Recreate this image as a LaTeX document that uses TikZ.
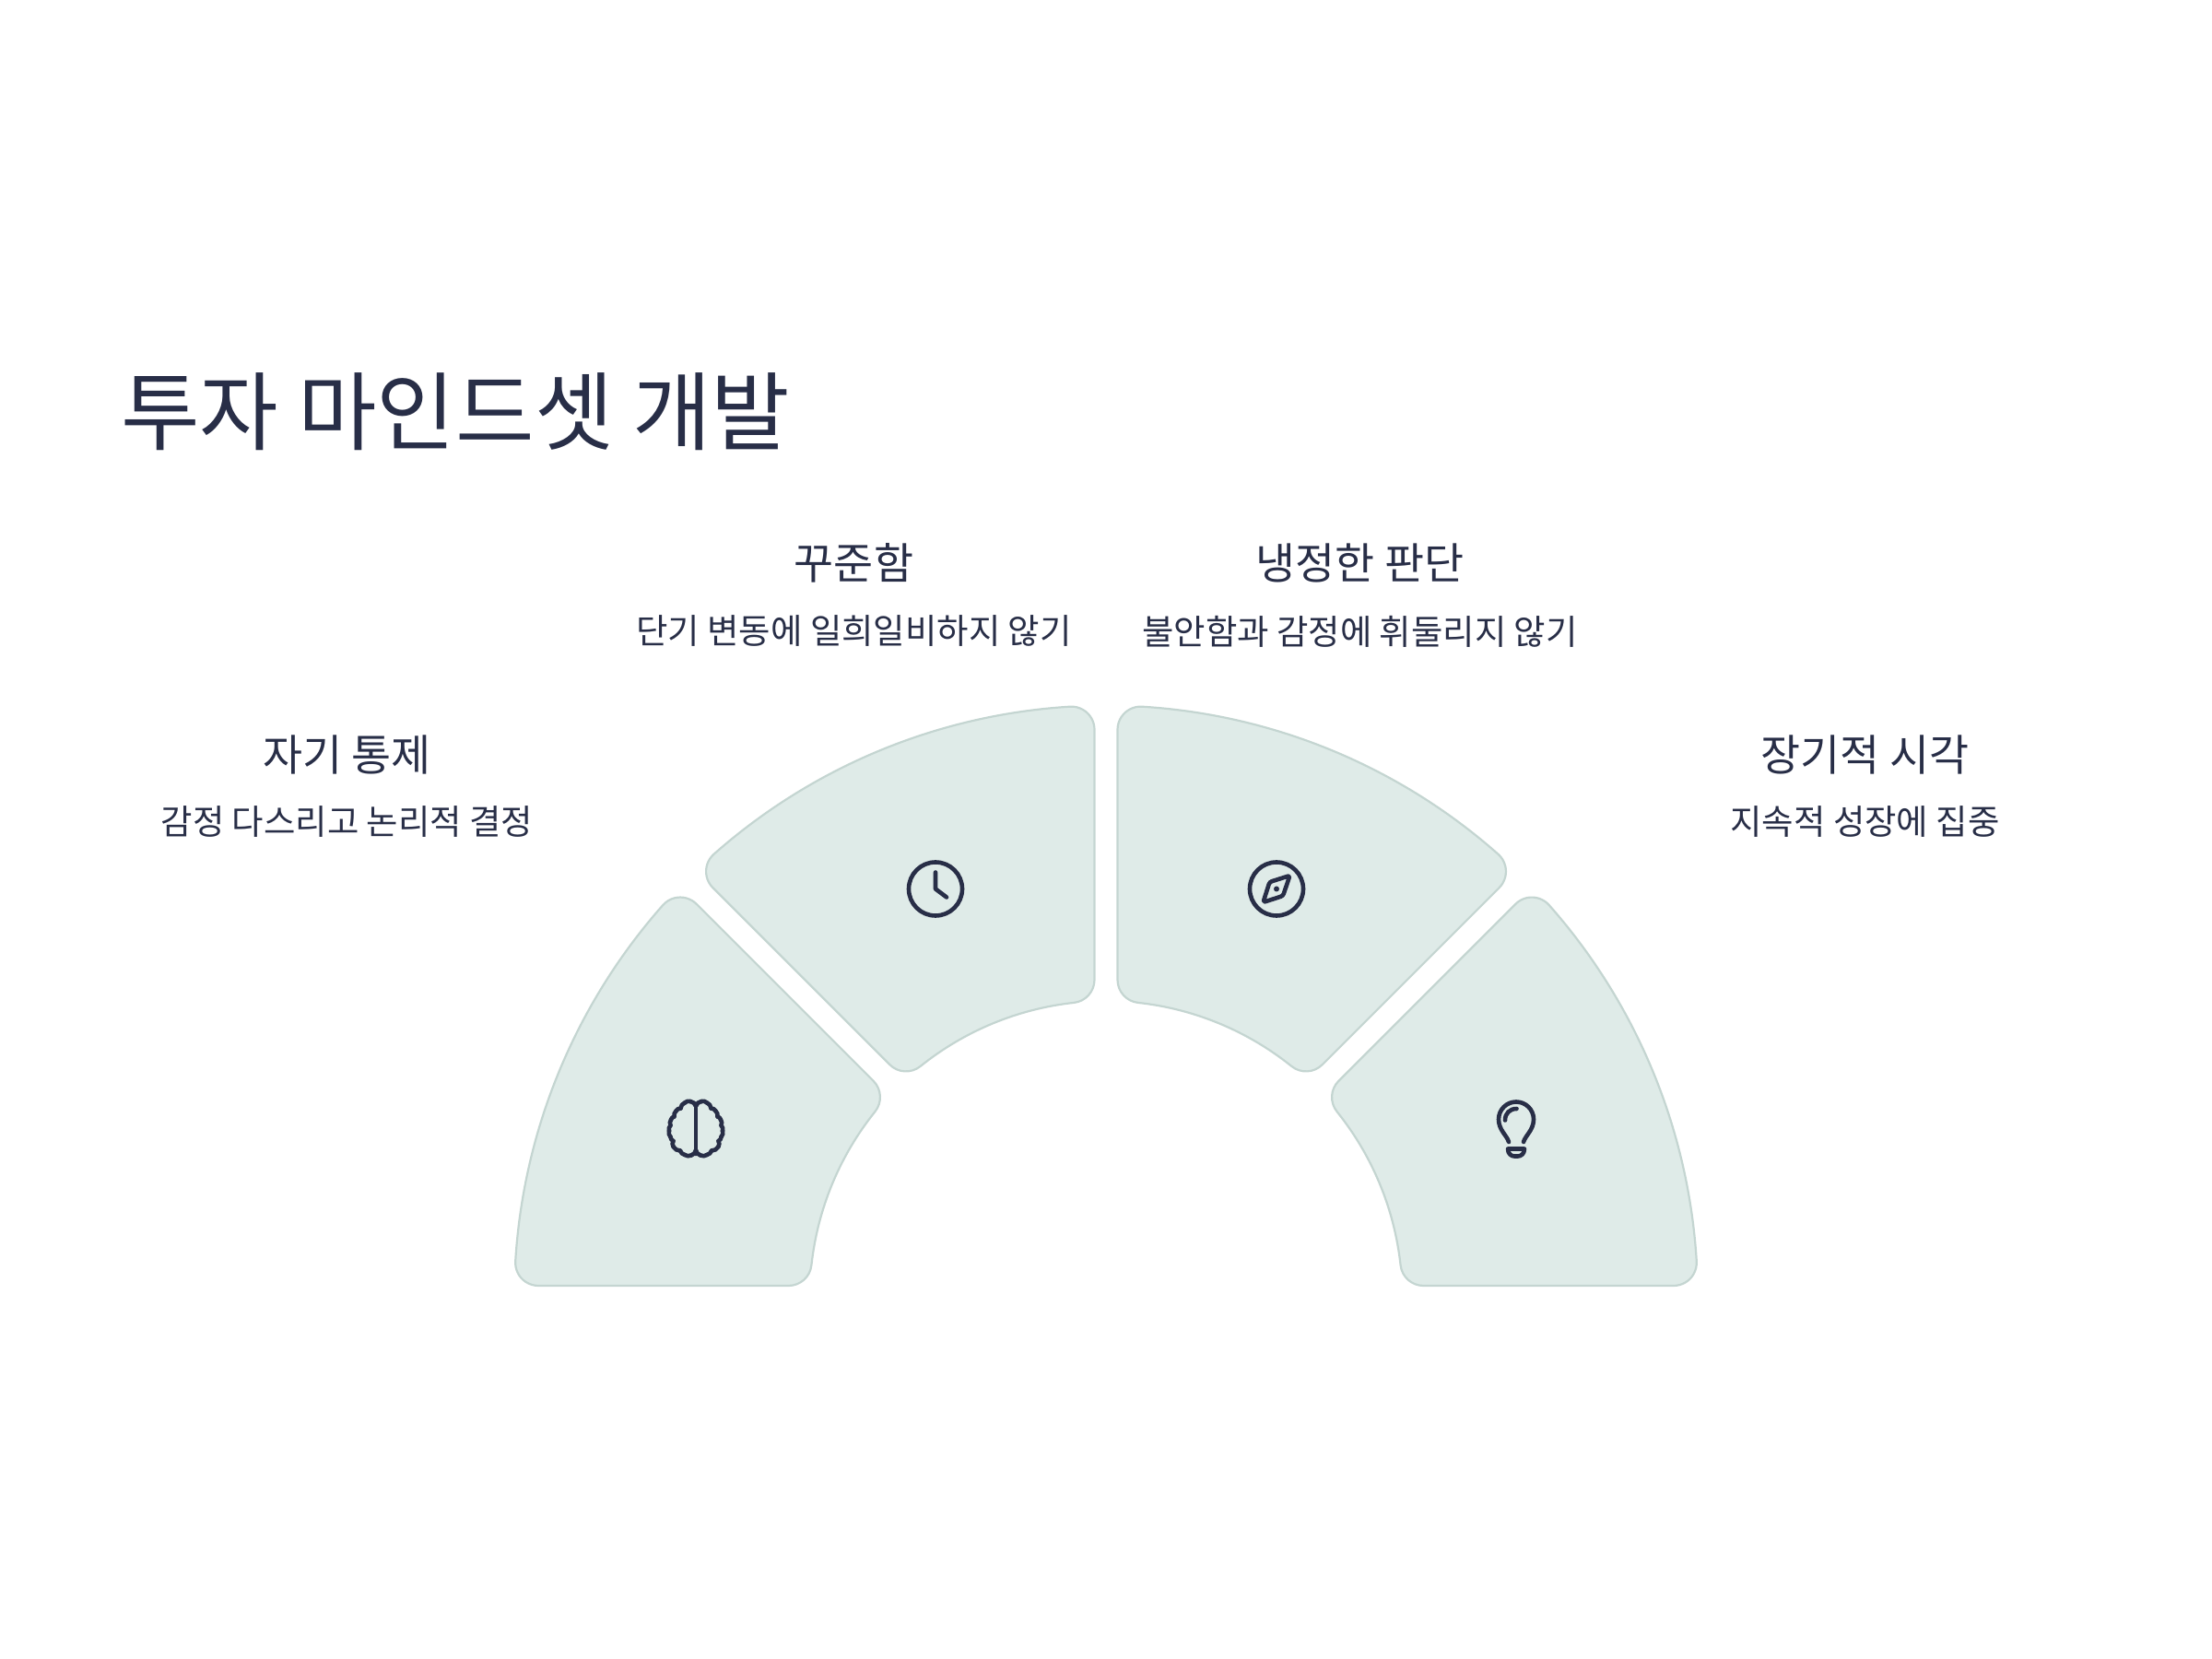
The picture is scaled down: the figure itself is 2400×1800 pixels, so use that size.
\documentclass[tikz,border=0pt]{standalone}
\usepackage{fontspec}
\setmainfont{Noto Sans CJK KR}
\usepackage{xcolor}
\definecolor{inkc}{HTML}{282E47}
\definecolor{sectfill}{HTML}{DFEBE8}
\definecolor{sectline}{HTML}{C4D5D1}
\usetikzlibrary{positioning}
\pgfmathsetmacro\Ro{642}
\pgfmathsetmacro\Ri{321.5}
\pgfmathsetmacro\gp{12.5}
\pgfmathsetmacro\rf{25}
\pgfmathsetmacro\ph{22.5}
\pgfmathsetmacro\thO{\ph-asin((\gp+\rf)/(\Ro-\rf))}
\pgfmathsetmacro\thI{\ph-asin((\gp+\rf)/(\Ri+\rf))}
\pgfmathsetmacro\ix{(\Ri+\rf)*cos(\thI)-\rf*sin(\ph)}
\pgfmathsetmacro\iy{(\Ri+\rf)*sin(\thI)+\rf*cos(\ph)}
\pgfmathsetmacro\ox{(\Ro-\rf)*cos(\thO)-\rf*sin(\ph)}
\pgfmathsetmacro\oy{(\Ro-\rf)*sin(\thO)+\rf*cos(\ph)}
\begin{document}
\begin{tikzpicture}[x=0.5pt,y=0.5pt,
  title/.style={font=\fontsize{46.5}{50}\selectfont,text=inkc,inner sep=0pt},
  head/.style={font=\fontsize{23.4}{26}\selectfont,text=inkc,inner sep=0pt},
  sub/.style={font=\fontsize{18.7}{22}\selectfont,text=inkc,inner sep=0pt},
  sector/.style={fill=sectfill,draw=sectline,line width=1.1pt},
  icon/.style={draw=inkc,line width=2.3pt,line cap=round,line join=round}]
 \useasboundingbox (0,0) rectangle (2400,1800);
 \node[title,anchor=west] (ttl) at (131,1353) {투자 마인드셋 개발};
 \node[head] (h1) at (376.5,981) {자기 통제};
 \node[sub]  (s1) at (376.5,908) {감정 다스리고 논리적 결정};
 \node[head] (h2) at (926.5,1189) {꾸준함};
 \node[sub]  (s2) at (926.5,1115) {단기 변동에 일희일비하지 않기};
 \node[head] (h3) at (1475.5,1189) {냉정한 판단};
 \node[sub]  (s3) at (1475.5,1115) {불안함과 감정에 휘둘리지 않기};
 \node[head] (h4) at (2023.5,981) {장기적 시각};
 \node[sub]  (s4) at (2023.5,908) {지속적 성장에 집중};
 \foreach \ang in {157.5,112.5,67.5,22.5}
  \draw[sector,shift={(1200,392.5)},rotate=\ang] (-\thO:\Ro)
    arc[start angle=-\thO,end angle=\thO,radius=\Ro]
    arc[start angle=\thO,end angle=\ph+90,radius=\rf]
    -- (\ix,\iy)
    arc[start angle=\ph+90,end angle=\thI+180,radius=\rf]
    arc[start angle=\thI,end angle=-\thI,radius=\Ri]
    arc[start angle=180-\thI,end angle=270-\ph,radius=\rf]
    -- (\ox,-\oy)
    arc[start angle=270-\ph,end angle=360-\thO,radius=\rf] -- cycle;
 % clock
 \draw[icon] (1015,835.5) circle (29);
 \draw[icon] (1015,853.5) -- (1015,835.5) -- (1027,826.5);
 % compass
 \draw[icon] (1385,835.5) circle (29);
 \draw[icon,rounded corners=1.2pt] (1399.5,850) -- (1392,828) -- (1370.5,821) -- (1377.5,843) -- cycle;
 \fill[inkc] (1385,835.5) circle (3);
 % bulb
 \begin{scope}[shift={(1590,630)},yscale=-1]
  \draw[icon] (47,69) .. controls (45,62) and (36,56) .. (36,44.5)
    .. controls (36,34) and (44.5,25.5) .. (55,25.5)
    .. controls (65.5,25.5) and (74,34) .. (74,44.5)
    .. controls (74,56) and (65,62) .. (63,69);
  \draw[icon] (43,45.5) .. controls (43,38) and (48,33) .. (55.5,33);
  \draw[icon] (46,76.5) -- (64,76.5) .. controls (64,82) and (60,84.5) .. (57,84.5)
    -- (53,84.5) .. controls (50,84.5) and (46,82) .. (46,76.5) -- cycle;
 \end{scope}
 % brain
 \begin{scope}[shift={(755,630)},yscale=-1]
  \draw[icon] (0,28) -- (0,82);
  \foreach \s in {1,-1} {
   \pgfmathsetmacro\bnd{\s*30}
   \foreach \x/\y [remember=\x as \lx (initially 0),remember=\y as \ly (initially 30)] in
     {-6/25,-12/26.5,-16.5/32.5,-21.5/35.5,-23.5/41.5,-27/45,-27.5/51,-29/57,-27.5/63.5,-24.5/68,-24.5/74,-17/78.5,-12/83,-5/83.5,0/78}
    \draw[icon] (\s*\lx,\ly) to[bend left=\bnd] (\s*\x,\y);
  }
 \end{scope}
\end{tikzpicture}
\end{document}
